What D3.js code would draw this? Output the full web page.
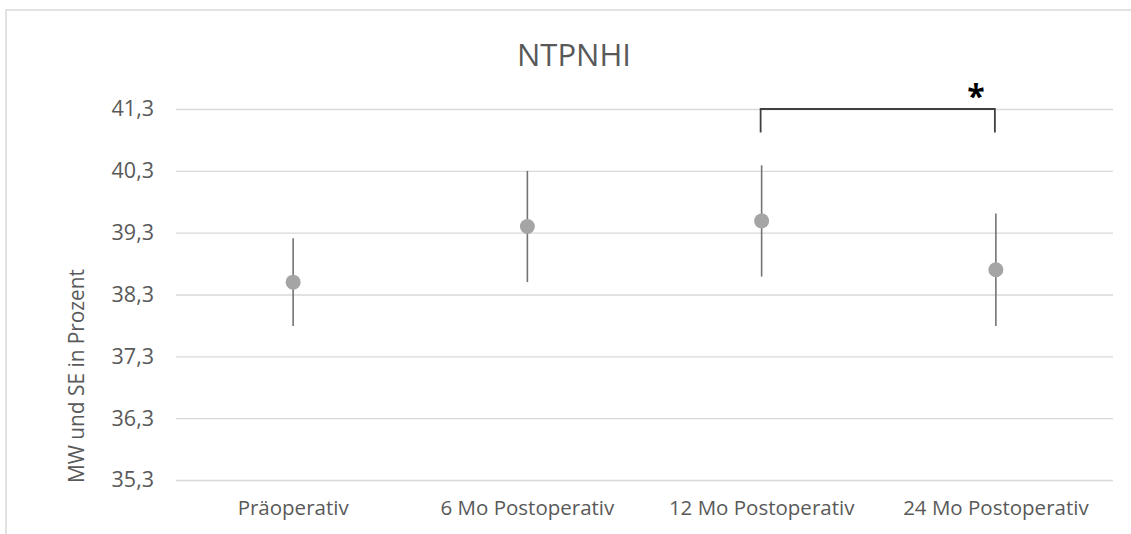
<!DOCTYPE html>
<html>
<head>
<meta charset="utf-8">
<script src="https://cdn.jsdelivr.net/npm/d3@7"></script>
<style>
  html, body { margin: 0; padding: 0; background: #fff; }
  svg { display: block; }
  text { font-family: "Open Sans", "Noto Sans", sans-serif; }
</style>
</head>
<body>
<svg id="chart" width="1131" height="534"></svg>
<script>
// ---- data ----
const title = "NTPNHI";
const yAxisTitle = "MW und SE in Prozent";
const categories = ["Präoperativ", "6 Mo Postoperativ", "12 Mo Postoperativ", "24 Mo Postoperativ"];
const means = [38.50, 39.40, 39.49, 38.70];
const se = [0.71, 0.90, 0.90, 0.91];
const yTicks = [35.3, 36.3, 37.3, 38.3, 39.3, 40.3, 41.3];
const bracketFrom = "12 Mo Postoperativ";
const bracketTo = "24 Mo Postoperativ";
const bracketTop = 41.3;
const bracketBottom = 40.92;
const bracketLabel = "*";

// ---- layout ----
const svg = d3.select("#chart");
const plot = { left: 176, right: 1113, top: 109, bottom: 480 };

svg.append("rect")
  .attr("x", 6).attr("y", 10).attr("width", 1140).attr("height", 540)
  .attr("fill", "#fff").attr("stroke", "#d9d9d9").attr("stroke-width", 1.5);

const x = d3.scaleBand().domain(categories).range([plot.left, plot.right]);
const y = d3.scaleLinear().domain([35.3, 41.3]).range([plot.bottom, plot.top]);
const cx = c => x(c) + x.bandwidth() / 2;

// gridlines + y tick labels
const yAxis = d3.axisLeft(y).tickValues(yTicks)
  .tickSize(-(plot.right - plot.left))
  .tickPadding(22)
  .tickFormat(d => d3.format(".1f")(d).replace(".", ","));
const gy = svg.append("g").attr("transform", `translate(${plot.left},0)`).call(yAxis);
gy.select(".domain").remove();
gy.selectAll(".tick line").attr("stroke", "#d9d9d9").attr("stroke-width", 1.3);
gy.selectAll(".tick text").attr("fill", "#595959").attr("font-size", 21.5)
  .attr("font-family", "'Open Sans', sans-serif");

// x axis labels
const xAxis = d3.axisBottom(x).tickSize(0).tickPadding(20);
const gx = svg.append("g").attr("transform", `translate(0,${plot.bottom})`).call(xAxis);
gx.select(".domain").remove();
gx.selectAll(".tick text").attr("fill", "#595959").attr("font-size", 20.5)
  .attr("font-family", "'Open Sans', sans-serif");

// title
svg.append("text").attr("x", 574).attr("y", 66).attr("text-anchor", "middle")
  .attr("fill", "#595959").attr("font-size", 31).text(title);

// y axis title
svg.append("text")
  .attr("transform", `translate(84,376) rotate(-90)`)
  .attr("text-anchor", "middle").attr("fill", "#595959").attr("font-size", 21.5)
  .attr("textLength", 214).attr("lengthAdjust", "spacingAndGlyphs")
  .text(yAxisTitle);

// error bars
const pts = categories.map((c, i) => ({ c, m: means[i], s: se[i] }));
svg.append("g").selectAll("line").data(pts).join("line")
  .attr("x1", d => cx(d.c)).attr("x2", d => cx(d.c))
  .attr("y1", d => y(d.m + d.s)).attr("y2", d => y(d.m - d.s))
  .attr("stroke", "#747474").attr("stroke-width", 1.6);

// points
svg.append("g").selectAll("circle").data(pts).join("circle")
  .attr("cx", d => cx(d.c)).attr("cy", d => y(d.m)).attr("r", 7.5)
  .attr("fill", "#a5a5a5");

// significance bracket
const bx1 = cx(bracketFrom) - 1, bx2 = cx(bracketTo) - 1;
svg.append("path")
  .attr("d", `M${bx1},${y(bracketBottom)} V${y(bracketTop)} H${bx2} V${y(bracketBottom)}`)
  .attr("fill", "none").attr("stroke", "#404040").attr("stroke-width", 1.8);
svg.append("text").attr("x", bx2 - 19).attr("y", 108).attr("text-anchor", "middle")
  .attr("fill", "#000").attr("font-size", 32).attr("font-weight", "bold")
  .attr("font-family", "'DejaVu Sans', sans-serif")
  .text(bracketLabel);
</script>
</body>
</html>
